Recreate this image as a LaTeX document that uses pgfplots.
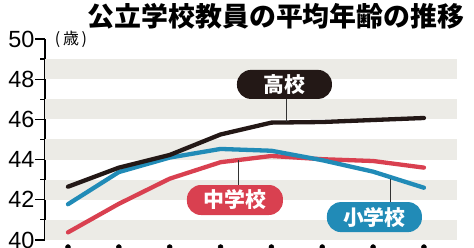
\documentclass[border=0pt]{standalone}
\usepackage{pgfplots}
\pgfplotsset{compat=1.18}
\usepackage{fontspec}
\setmainfont{Liberation Sans}
\newfontfamily\cjk{Noto Sans CJK JP}
\newfontfamily\cjkblack{Noto Sans CJK JP Black}
\definecolor{hiblack}{RGB}{35,24,22}
\definecolor{elblue}{RGB}{33,139,183}
\definecolor{jhred}{RGB}{217,64,80}
\definecolor{band}{RGB}{236,235,230}
\begin{document}
\begin{tikzpicture}
\path[use as bounding box] (0,0) rectangle (474bp,248bp);
\begin{axis}[
  at={(45bp,8bp)}, anchor=south west,
  scale only axis, width=412bp, height=201bp,
  xmin=-0.452, xmax=7.65, ymin=40, ymax=50,
  axis x line=none, axis y line=left,
  axis line style={-, line width=1.2bp, black},
  ytick={40,42,...,50}, minor ytick={41,43,...,49},
  tick align=outside, major tick length=10bp, minor tick length=5bp,
  tick style={black, line width=1.2bp},
  yticklabel style={font=\fontsize{23.5}{23.5}\selectfont, inner sep=0.5bp},
  /pgf/number format/assume math mode=true,
  clip=false,
]
\foreach \b in {40,42,44,46,48}{
  \edef\tmp{\noexpand\fill[band] (axis cs:-0.452,\b) rectangle (axis cs:7.65,\b+1);}
  \tmp
}
\addplot[only marks, mark=*, mark size=2.5bp, black] coordinates {
(0,39.65) (1,39.65) (2,39.65) (3,39.65) (4,39.65) (5,39.65) (6,39.65) (7,39.65)};
% junior high (red)
\addplot[jhred, line width=4.3bp, line cap=round, line join=round] coordinates {
(0,40.38) (1,41.80) (2,43.05) (3,43.87) (4,44.18) (5,44.02) (6,43.93) (7,43.60)};
% elementary (blue)
\addplot[elblue, line width=4.3bp, line cap=round, line join=round] coordinates {
(0,41.78) (1,43.38) (2,44.10) (3,44.53) (4,44.44) (5,43.97) (6,43.40) (7,42.60)};
% high school (black)
\addplot[hiblack, line width=4.3bp, line cap=round, line join=round] coordinates {
(0,42.65) (1,43.60) (2,44.23) (3,45.25) (4,45.84) (5,45.87) (6,45.97) (7,46.07)};
% leaders
\draw[black!80, line width=1bp] (axis cs:4.306,45.88) -- (axis cs:4.306,47.0);
\draw[black!80, line width=1bp] (axis cs:3.362,43.97) -- (axis cs:3.362,42.75);
\draw[black!80, line width=1bp] (axis cs:6.351,43.05) -- (axis cs:6.351,41.9);
% pills
\node[fill=hiblack, text=white, rounded corners=14bp, minimum width=95bp, minimum height=29bp, inner sep=0pt,
  font=\cjk\bfseries\fontsize{21}{21}\selectfont] at (axis cs:4.257,47.74) {高校};
\node[fill=jhred, text=white, rounded corners=14bp, minimum width=96bp, minimum height=30bp, inner sep=0pt,
  font=\cjk\bfseries\fontsize{21}{21}\selectfont] at (axis cs:3.283,41.99) {中学校};
\node[fill=elblue, text=white, rounded corners=14bp, minimum width=95bp, minimum height=30bp, inner sep=0pt,
  font=\cjk\bfseries\fontsize{21}{21}\selectfont] at (axis cs:6.026,41.14) {小学校};
\end{axis}
\node[font=\cjkblack\fontsize{27}{27}\selectfont, inner sep=0pt] at (276bp,231.5bp) {公立学校教員の平均年齢の推移};
\node[font=\cjk\fontsize{16}{16}\selectfont, inner sep=0pt] at (71bp,209bp) {(\,歳\,)};
\end{tikzpicture}
\end{document}
